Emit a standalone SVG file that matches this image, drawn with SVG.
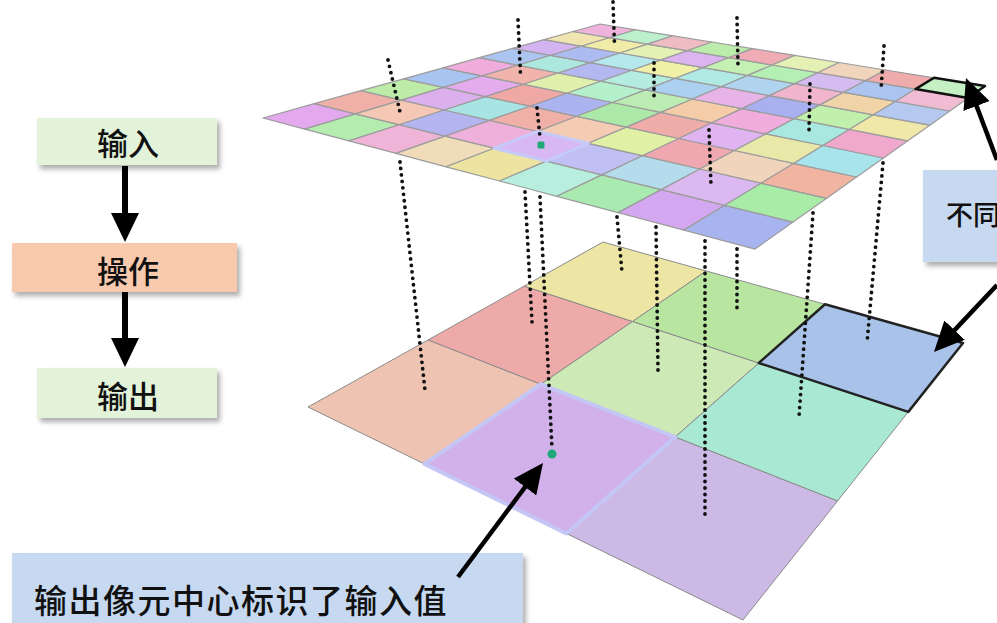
<svg xmlns="http://www.w3.org/2000/svg" width="997" height="623" viewBox="0 0 997 623">
<defs>
<style>
.t{font-family:"Noto Sans CJK SC","Noto Sans",sans-serif;fill:#111;font-weight:500;}
.tc{stroke:#9c9c9c;stroke-width:1.2;stroke-linejoin:round;}
.bc{stroke:#8a8a8a;stroke-width:1;stroke-linejoin:round;}
.dot{fill:none;stroke:#111;stroke-width:3.8;stroke-linecap:round;stroke-dasharray:0 6.5;}
.arr{fill:none;stroke:#000;stroke-width:4.5;}
.farr{fill:none;stroke:#000;stroke-width:6;}
.lbl{fill:#c6d9f0;}
.grn{fill:#e3f3d9;}
.org{fill:#f8c9ad;}
</style>
<filter id="sh" x="-10%" y="-10%" width="130%" height="150%">
<feDropShadow dx="3" dy="4" stdDeviation="2.5" flood-color="#777" flood-opacity="0.6"/>
</filter>
<marker id="ah" markerUnits="userSpaceOnUse" markerWidth="30" markerHeight="28" viewBox="0 0 30 28" refX="24" refY="14" orient="auto">
<path d="M0,0 L30,14 L0,28 Z" fill="#000"/>
</marker>
<marker id="fh" markerUnits="userSpaceOnUse" markerWidth="29" markerHeight="28" viewBox="0 0 29 28" refX="23" refY="14" orient="auto">
<path d="M0,0 L29,14 L0,28 Z" fill="#000"/>
</marker>
</defs>
<rect width="997" height="623" fill="#fff"/>

<g id="bottom-grid">
<polygon class="bc" fill="#efc3b1" points="308,407 424.5,464 540.9,384.2 428.1,339.9"/>
<polygon class="bc" fill="#cdb9e6" points="566.4,533.5 743,620 837.6,500.9 675.2,437"/>
<polygon class="bc" fill="#eeaaa8" points="428.1,339.9 540.9,384.2 632.5,321.5 524.2,286.1"/>
<polygon class="bc" fill="#cde9b5" points="540.9,384.2 675.2,437 758.8,363 632.5,321.5"/>
<polygon class="bc" fill="#a9e9d3" points="675.2,437 837.6,500.9 908.3,411.9 758.8,363"/>
<polygon class="bc" fill="#ede5a3" points="524.2,286.1 632.5,321.5 706.3,271 603,242"/>
<polygon class="bc" fill="#b8e6a0" points="632.5,321.5 758.8,363 825,304.3 706.3,271"/>
<polygon fill="#d2b0ea" stroke="#c4c6f6" stroke-width="4" stroke-linejoin="round" points="424.5,464 566.4,533.5 675.2,437 540.9,384.2"/>
<polygon fill="#a9c2e9" stroke="#222" stroke-width="2.5" stroke-linejoin="round" points="758.8,363 908.3,411.9 963,343 825,304.3"/>
</g>

<g id="top-grid">
<polygon class="tc" fill="#e4a8ee" points="263,118 304.7,129.1 355.4,113.9 314.2,103.7"/>
<polygon class="tc" fill="#b4ecb0" points="304.7,129.1 349,140.9 399,124.7 355.4,113.9"/>
<polygon class="tc" fill="#f0b4d8" points="349,140.9 396,153.4 445.2,136.1 399,124.7"/>
<polygon class="tc" fill="#f0dcb8" points="396,153.4 446.1,166.8 494.2,148.2 445.2,136.1"/>
<polygon class="tc" fill="#ece4a0" points="446.1,166.8 499.6,181 546.4,161.1 494.2,148.2"/>
<polygon class="tc" fill="#b8eede" points="499.6,181 556.8,196.3 601.9,174.9 546.4,161.1"/>
<polygon class="tc" fill="#a8eab0" points="556.8,196.3 618.1,212.6 661.3,189.6 601.9,174.9"/>
<polygon class="tc" fill="#d4a8f0" points="618.1,212.6 684,230.1 724.8,205.3 661.3,189.6"/>
<polygon class="tc" fill="#a8b4f0" points="684,230.1 755,249.1 793,222.1 724.8,205.3"/>

<polygon class="tc" fill="#f0b0a8" points="314.2,103.7 355.4,113.9 401.5,100.1 360.9,90.7"/>
<polygon class="tc" fill="#f4c8b4" points="355.4,113.9 399,124.7 444.3,110 401.5,100.1"/>
<polygon class="tc" fill="#b4b4f0" points="399,124.7 445.2,136.1 489.6,120.4 444.3,110"/>
<polygon class="tc" fill="#f0b0dc" points="445.2,136.1 494.2,148.2 537.5,131.5 489.6,120.4"/>
<polygon class="tc" fill="#c0c0f4" points="546.4,161.1 601.9,174.9 642.4,155.7 588.4,143.3"/>
<polygon class="tc" fill="#b4dcec" points="601.9,174.9 661.3,189.6 699.9,169 642.4,155.7"/>
<polygon class="tc" fill="#dcb8f0" points="661.3,189.6 724.8,205.3 761.1,183.2 699.9,169"/>
<polygon class="tc" fill="#a8eca8" points="724.8,205.3 793,222.1 826.7,198.3 761.1,183.2"/>

<polygon class="tc" fill="#bceca8" points="360.9,90.7 401.5,100.1 443.6,87.4 403.6,78.8"/>
<polygon class="tc" fill="#dcb0ec" points="401.5,100.1 444.3,110 485.7,96.6 443.6,87.4"/>
<polygon class="tc" fill="#a8e4e4" points="444.3,110 489.6,120.4 530,106.2 485.7,96.6"/>
<polygon class="tc" fill="#f0b0a8" points="489.6,120.4 537.5,131.5 576.8,116.3 530,106.2"/>
<polygon class="tc" fill="#f4ccb4" points="537.5,131.5 588.4,143.3 626.4,127.1 576.8,116.3"/>
<polygon class="tc" fill="#e0f0a4" points="588.4,143.3 642.4,155.7 678.8,138.5 626.4,127.1"/>
<polygon class="tc" fill="#f0a8b0" points="642.4,155.7 699.9,169 734.5,150.5 678.8,138.5"/>
<polygon class="tc" fill="#f0d4bc" points="699.9,169 761.1,183.2 793.6,163.4 734.5,150.5"/>
<polygon class="tc" fill="#f0b4a0" points="761.1,183.2 826.7,198.3 856.6,177 793.6,163.4"/>

<polygon class="tc" fill="#a8c4f0" points="403.6,78.8 443.6,87.4 482.2,75.8 443,67.8"/>
<polygon class="tc" fill="#e4acec" points="443.6,87.4 485.7,96.6 523.5,84.3 482.2,75.8"/>
<polygon class="tc" fill="#f0a8a4" points="485.7,96.6 530,106.2 566.9,93.2 523.5,84.3"/>
<polygon class="tc" fill="#acb4f0" points="530,106.2 576.8,116.3 612.6,102.5 566.9,93.2"/>
<polygon class="tc" fill="#ace8a8" points="576.8,116.3 626.4,127.1 660.9,112.4 612.6,102.5"/>
<polygon class="tc" fill="#f0aca8" points="626.4,127.1 678.8,138.5 711.8,122.8 660.9,112.4"/>
<polygon class="tc" fill="#e0b4f0" points="678.8,138.5 734.5,150.5 765.8,133.9 711.8,122.8"/>
<polygon class="tc" fill="#e8e8a8" points="734.5,150.5 793.6,163.4 822.9,145.5 765.8,133.9"/>
<polygon class="tc" fill="#a8e4ec" points="793.6,163.4 856.6,177 883.5,158 822.9,145.5"/>

<polygon class="tc" fill="#f0acdc" points="443,67.8 482.2,75.8 517.8,65.2 479.2,57.7"/>
<polygon class="tc" fill="#f0b4ac" points="482.2,75.8 523.5,84.3 558.3,73 517.8,65.2"/>
<polygon class="tc" fill="#e0f0ac" points="523.5,84.3 566.9,93.2 600.7,81.2 558.3,73"/>
<polygon class="tc" fill="#b4f0cc" points="566.9,93.2 612.6,102.5 645.4,89.9 600.7,81.2"/>
<polygon class="tc" fill="#bcecb4" points="612.6,102.5 660.9,112.4 692.4,99 645.4,89.9"/>
<polygon class="tc" fill="#f4cca8" points="660.9,112.4 711.8,122.8 741.9,108.6 692.4,99"/>
<polygon class="tc" fill="#f0acdc" points="711.8,122.8 765.8,133.9 794.1,118.7 741.9,108.6"/>
<polygon class="tc" fill="#a8e8e0" points="765.8,133.9 822.9,145.5 849.3,129.4 794.1,118.7"/>
<polygon class="tc" fill="#f0a8cc" points="822.9,145.5 883.5,158 907.8,140.8 849.3,129.4"/>

<polygon class="tc" fill="#acc4f0" points="479.2,57.7 517.8,65.2 550.7,55.3 512.8,48.3"/>
<polygon class="tc" fill="#ace8e0" points="517.8,65.2 558.3,73 590.3,62.6 550.7,55.3"/>
<polygon class="tc" fill="#b4b8f0" points="558.3,73 600.7,81.2 631.9,70.3 590.3,62.6"/>
<polygon class="tc" fill="#b4ece0" points="600.7,81.2 645.4,89.9 675.4,78.3 631.9,70.3"/>
<polygon class="tc" fill="#acd0f0" points="645.4,89.9 692.4,99 721.2,86.7 675.4,78.3"/>
<polygon class="tc" fill="#e8b4e8" points="692.4,99 741.9,108.6 769.3,95.6 721.2,86.7"/>
<polygon class="tc" fill="#a8b0f0" points="741.9,108.6 794.1,118.7 820,104.9 769.3,95.6"/>
<polygon class="tc" fill="#c0f0ac" points="794.1,118.7 849.3,129.4 873.4,114.8 820,104.9"/>
<polygon class="tc" fill="#f0e8a8" points="849.3,129.4 907.8,140.8 929.8,125.2 873.4,114.8"/>

<polygon class="tc" fill="#d4b4f0" points="512.8,48.3 550.7,55.3 581.1,46.2 544,39.6"/>
<polygon class="tc" fill="#acbcf0" points="550.7,55.3 590.3,62.6 620,53 581.1,46.2"/>
<polygon class="tc" fill="#b4e8ec" points="590.3,62.6 631.9,70.3 660.6,60.1 620,53"/>
<polygon class="tc" fill="#f0f0a8" points="631.9,70.3 675.4,78.3 703.1,67.6 660.6,60.1"/>
<polygon class="tc" fill="#b0e8e4" points="675.4,78.3 721.2,86.7 747.7,75.4 703.1,67.6"/>
<polygon class="tc" fill="#b0d4f0" points="721.2,86.7 769.3,95.6 794.5,83.7 747.7,75.4"/>
<polygon class="tc" fill="#f0b4cc" points="769.3,95.6 820,104.9 843.7,92.3 794.5,83.7"/>
<polygon class="tc" fill="#f0d4a8" points="820,104.9 873.4,114.8 895.4,101.4 843.7,92.3"/>
<polygon class="tc" fill="#b4c8f0" points="873.4,114.8 929.8,125.2 949.8,111 895.4,101.4"/>

<polygon class="tc" fill="#f0e4b0" points="544,39.6 581.1,46.2 609.4,37.7 573,31.5"/>
<polygon class="tc" fill="#f0eca8" points="581.1,46.2 620,53 647.5,44.1 609.4,37.7"/>
<polygon class="tc" fill="#e4f0b4" points="620,53 660.6,60.1 687.2,50.7 647.5,44.1"/>
<polygon class="tc" fill="#dcb4f0" points="660.6,60.1 703.1,67.6 728.7,57.7 687.2,50.7"/>
<polygon class="tc" fill="#c4f0b4" points="703.1,67.6 747.7,75.4 772.2,65 728.7,57.7"/>
<polygon class="tc" fill="#b4f0b4" points="747.7,75.4 794.5,83.7 817.7,72.7 772.2,65"/>
<polygon class="tc" fill="#d4bcf0" points="794.5,83.7 843.7,92.3 865.4,80.7 817.7,72.7"/>
<polygon class="tc" fill="#acc4f0" points="843.7,92.3 895.4,101.4 915.5,89.1 865.4,80.7"/>
<polygon class="tc" fill="#f0bcd4" points="895.4,101.4 949.8,111 968.2,98 915.5,89.1"/>

<polygon class="tc" fill="#f0b4dc" points="573,31.5 609.4,37.7 635.8,29.8 600,24"/>
<polygon class="tc" fill="#bcf0cc" points="609.4,37.7 647.5,44.1 673,35.8 635.8,29.8"/>
<polygon class="tc" fill="#f0bcc4" points="647.5,44.1 687.2,50.7 711.9,42 673,35.8"/>
<polygon class="tc" fill="#bcecac" points="687.2,50.7 728.7,57.7 752.4,48.6 711.9,42"/>
<polygon class="tc" fill="#f0acb4" points="728.7,57.7 772.2,65 794.8,55.4 752.4,48.6"/>
<polygon class="tc" fill="#e4f0b4" points="772.2,65 817.7,72.7 839.1,62.5 794.8,55.4"/>
<polygon class="tc" fill="#f0d4bc" points="817.7,72.7 865.4,80.7 885.5,70 839.1,62.5"/>
<polygon class="tc" fill="#f0acac" points="865.4,80.7 915.5,89.1 934,77.8 885.5,70"/>

<polygon fill="#d8b8f2" stroke="#c6cafa" stroke-width="3" stroke-linejoin="round" points="494.2,148.2 546.4,161.1 588.4,143.3 537.5,131.5"/>
<polygon fill="#c4f0c4" stroke="#111" stroke-width="2.5" stroke-linejoin="round" points="915.5,89.1 968.2,98 985,86 934,77.8"/>
</g>

<g id="node-input">
<rect class="grn" x="37" y="118" width="180" height="47" filter="url(#sh)"/>
<text class="t" x="128" y="155" font-size="31" text-anchor="middle">输入</text>
</g>
<g id="node-operation">
<rect class="org" x="12" y="243" width="225" height="49" filter="url(#sh)"/>
<text class="t" x="128" y="283" font-size="31" text-anchor="middle">操作</text>
</g>
<g id="node-output">
<rect class="grn" x="37" y="368" width="180" height="50" filter="url(#sh)"/>
<text class="t" x="128" y="408" font-size="31" text-anchor="middle">输出</text>
</g>
<g id="label-different">
<rect class="lbl" x="923" y="170" width="90" height="92" filter="url(#sh)"/>
<text class="t" x="946" y="225" font-size="27">不同</text>
</g>
<g id="label-center">
<rect class="lbl" x="12" y="553" width="511" height="80" filter="url(#sh)"/>
<text class="t" x="34" y="613" font-size="33" letter-spacing="1.5">输出像元中心标识了输入值</text>
</g>

<g id="connectors">
<g id="projection-lines">
<line class="dot" x1="388" y1="60" x2="400" y2="112"/>
<line class="dot" x1="518" y1="20" x2="520.5" y2="74"/>
<line class="dot" x1="613" y1="2" x2="614.5" y2="45"/>
<line class="dot" x1="537" y1="108" x2="540" y2="137"/>
<line class="dot" x1="654" y1="63" x2="654" y2="100"/>
<line class="dot" x1="737" y1="18" x2="738" y2="66"/>
<line class="dot" x1="709" y1="130" x2="711" y2="186"/>
<line class="dot" x1="810" y1="84" x2="809" y2="131"/>
<line class="dot" x1="884" y1="46" x2="881" y2="90"/>

<line class="dot" x1="400" y1="162" x2="425" y2="390"/>
<line class="dot" x1="540" y1="197" x2="552" y2="449"/>
<line class="dot" x1="525" y1="192" x2="532" y2="322"/>
<line class="dot" x1="617" y1="217" x2="622" y2="272"/>
<line class="dot" x1="656" y1="227" x2="658" y2="370"/>
<line class="dot" x1="737" y1="249" x2="737" y2="310"/>
<line class="dot" x1="705" y1="241" x2="705" y2="515"/>
<line class="dot" x1="813" y1="213" x2="799" y2="417"/>
<line class="dot" x1="883" y1="163" x2="867" y2="343"/>
</g>
<rect x="537.5" y="141.5" width="7" height="7" rx="1.5" fill="#1fa878"/>
<circle cx="552" cy="454" r="4.5" fill="#1fa878"/>

<line class="farr" x1="125" y1="166" x2="125" y2="236" marker-end="url(#fh)"/>
<line class="farr" x1="125" y1="292" x2="125" y2="361" marker-end="url(#fh)"/>

<line class="arr" x1="458" y1="577" x2="539.4" y2="467.8" marker-end="url(#ah)"/>
<line class="arr" x1="997" y1="160" x2="968.1" y2="83.6" marker-end="url(#ah)"/>
<line class="arr" x1="997" y1="285" x2="938.1" y2="347.6" marker-end="url(#ah)"/>
</g>
</svg>
